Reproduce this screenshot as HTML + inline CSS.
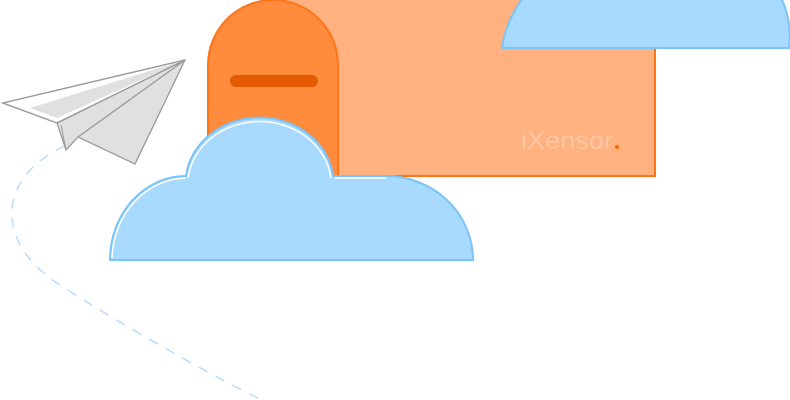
<!DOCTYPE html>
<html><head><style>html,body{margin:0;padding:0;background:#fff;width:790px;height:400px;overflow:hidden}</style></head>
<body>
<svg width="790" height="400" viewBox="0 0 790 400" xmlns="http://www.w3.org/2000/svg">
<path d="M265,-10 H605 Q655,-10 655,45 V176 H270 Z" fill="#ffb17f" stroke="#ff7417" stroke-width="2"/>
<path d="M208,176 V65 A65,65 0 0 1 338,65 V176 Z" fill="#ff8b3d" stroke="#ff7417" stroke-width="2"/>
<rect x="230" y="75" width="88" height="12" rx="6" fill="#e35a00"/>
<text x="521" y="149" font-family="Liberation Sans, sans-serif" font-size="25" fill="#ffc8a4" textLength="92" lengthAdjust="spacingAndGlyphs">iXensor</text>
<circle cx="617" cy="147" r="2" fill="#ff6a00"/>
<path d="M502,48 A110,110 0 0 1 540,-20 H770 A90,90 0 0 1 789,48 Z" fill="#a8d9fe" stroke="#7bc3f8" stroke-width="2"/>
<path d="M110,260 A76,84 0 0 1 186,176 A74,66 0 0 1 333,176 H386 A87,84 0 0 1 473,260 Z" fill="#a8d9fe" stroke="#7bc3f8" stroke-width="2"/>
<path d="M188,178 A72,64 0 0 1 331,178 M112,258 A75,83 0 0 1 186,178 M335,178 H386" fill="none" stroke="#fff" stroke-width="1.5"/>
<path d="M65,146 C0,175 -10,240 60,285 S220,380 262,400" fill="none" stroke="#b9dcfd" stroke-width="1.5" stroke-dasharray="10,9"/>
<polygon points="185,60 3,103 57,123 66,150 78,137 135,164" fill="#e0e0e0" stroke="#999" stroke-width="1.3"/>
<polygon points="185,60 3,103 57,123" fill="#fff" stroke="#999" stroke-width="1.3"/>
<polygon points="185,60 30,108 57,118" fill="#e0e0e0"/>
<polyline points="57,123 185,60 78,137" fill="none" stroke="#999" stroke-width="1.3"/>
<polyline points="66,150 61,125" fill="none" stroke="#999" stroke-width="1"/>
</svg>
</body></html>
